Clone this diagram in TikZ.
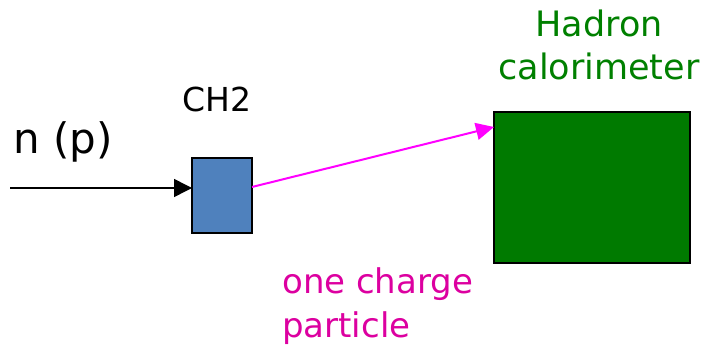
\documentclass[tikz,border=0pt]{standalone}
\usepackage{fontspec}
\setmainfont{DejaVu Sans}
\usetikzlibrary{arrows.meta}
\definecolor{boxblue}{RGB}{79,129,189}
\definecolor{calgreen}{RGB}{0,122,0}
\definecolor{labgreen}{RGB}{0,128,0}
\definecolor{trackmag}{RGB}{255,0,255}
\definecolor{labmag}{RGB}{220,0,160}
\begin{document}
\begin{tikzpicture}[x=1pt,y=-1pt,
  block/.style={draw=black,line width=1.6pt,inner sep=0pt,outer sep=0pt,anchor=north west},
  beam/.style={draw=black,line width=1.6pt,-{Triangle[length=18pt,width=18pt]}},
  track/.style={draw=trackmag,line width=2pt,-{Triangle[length=18pt,width=17pt]}},
  lbl/.style={inner sep=0pt,align=center}
]
\useasboundingbox (0,0) rectangle (702,350);
% target and calorimeter
\node[block,fill=boxblue,minimum width=60pt,minimum height=75pt] (ch2) at (192,158) {};
\node[block,fill=calgreen,minimum width=196pt,minimum height=151pt] (hcal) at (494,112) {};
% incoming beam and outgoing charged track
\coordinate (src) at (10,188);
\draw[beam] (src) -- (ch2.west |- src);
\coordinate (exit) at (252,187);
\coordinate (hit) at (494,127);
\draw[track] (exit) -- (hit);
% labels (two-line labels are anchored at the baseline of their last line)
\node[lbl,font=\fontsize{42}{46}\selectfont,anchor=base west] (np) at (13,154) {n (p)};
\node[lbl,font=\fontsize{33}{40}\selectfont,anchor=base] (ch2lbl) at (217,112) {CH2};
\node[lbl,text=labgreen,anchor=base,font=\fontsize{35}{43}\selectfont] (hlbl) at (599,80) {Hadron\\calorimeter};
\node[lbl,text=labmag,anchor=base west,align=left,font=\fontsize{34}{44}\selectfont] (plbl) at (282,337) {one charge\\particle};
\end{tikzpicture}
\end{document}
